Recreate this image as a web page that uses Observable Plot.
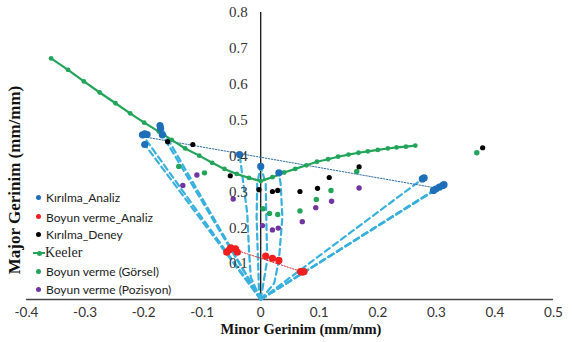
<!DOCTYPE html>
<html><head><meta charset="utf-8">
<script src="https://cdn.jsdelivr.net/npm/d3@7"></script>
<script src="https://cdn.jsdelivr.net/npm/@observablehq/plot@0.6"></script>
<style>
body{margin:0;background:#fff;}
#wrap{position:relative;width:572px;height:342px;overflow:hidden;background:#fff;}
.ov{position:absolute;white-space:nowrap;}
.leg{font-family:Lato,"Open Sans",sans-serif;font-size:12px;color:#222;transform:translateY(-50%);line-height:14px;}
.ttl{font-family:"Liberation Serif","Times New Roman",serif;font-weight:bold;color:#111;line-height:1;}
.mk{position:absolute;border-radius:50%;width:5px;height:5px;}
</style></head><body><div id="wrap"></div>
<script>
// ---- tick labels ----
const xTicks = [-0.4,-0.3,-0.2,-0.1,0,0.1,0.2,0.3,0.4,0.5];
const xTickLabels = ["-0.4","-0.3","-0.2","-0.1","0","0.1","0.2","0.3","0.4","0.5"];
const yTicks = [0.1,0.2,0.3,0.4,0.5,0.6,0.7,0.8];
const yTickLabels = ["0.1","0.2","0.3","0.4","0.5","0.6","0.7","0.8"];

// ---- Keeler curve ----
const keelerX = [-0.358,-0.329,-0.302,-0.275,-0.248,-0.223,-0.199,-0.174,-0.152,-0.129,-0.105,-0.083,-0.062,-0.041,-0.020,0,0.020,0.040,0.059,0.078,0.096,0.115,0.132,0.150,0.167,0.183,0.200,0.217,0.232,0.248,0.264];
const keelerY = [0.672,0.640,0.608,0.577,0.547,0.519,0.493,0.468,0.445,0.421,0.401,0.381,0.364,0.350,0.339,0.330,0.341,0.354,0.364,0.374,0.384,0.391,0.398,0.404,0.409,0.413,0.417,0.421,0.424,0.426,0.429];

// ---- Kırılma_Analiz ----
const kaX = [-0.202,-0.198,-0.194,-0.198,-0.172,-0.171,-0.168,-0.036,0.000,0.031,0.276,0.279,0.295,0.299,0.305,0.311,0.313];
const kaY = [0.459,0.462,0.460,0.432,0.485,0.477,0.459,0.404,0.371,0.353,0.336,0.339,0.304,0.308,0.313,0.318,0.320];
const kaFitX = [-0.194,0.295];
const kaFitY = [0.452,0.312];

// ---- Boyun verme_Analiz ----
const bvaX = [-0.058,-0.054,-0.051,-0.043,-0.040,0.0085,0.020,0.031,0.068,0.071,0.074];
const bvaY = [0.132,0.138,0.144,0.141,0.132,0.121,0.115,0.109,0.078,0.076,0.078];
const bvaFitX = [-0.043,0.071];
const bvaFitY = [0.138,0.077];

// ---- Kırılma_Deney ----
const kdX = [-0.159,-0.116,-0.052,-0.003,0.020,0.029,0.067,0.097,0.117,0.168,0.379];
const kdY = [0.440,0.432,0.345,0.306,0.301,0.304,0.301,0.310,0.340,0.370,0.423];

// ---- Boyun verme (Görsel) ----
const bvgX = [-0.140,-0.096,0.004,0.015,0.029,0.067,0.095,0.120,0.164,0.369];
const bvgY = [0.371,0.353,0.253,0.240,0.237,0.247,0.279,0.304,0.357,0.409];

// ---- Boyun verme (Pozisyon) ----
const bvpX = [-0.133,-0.109,-0.047,0.003,0.020,0.030,0.071,0.094,0.121,0.168];
const bvpY = [0.318,0.347,0.280,0.206,0.194,0.199,0.217,0.256,0.274,0.311];

// ---- strain paths (dashed) ----
const pathX = [
  [0,-0.202],[0,-0.198],[0,-0.172],[0,-0.168],
  [0,-0.017,-0.020,-0.023,-0.036],
  [0,-0.003,-0.007,-0.006,0.000],
  [0,0.011,0.0085,0.000],
  [0,0.023,0.031,0.037,0.034,0.031],
  [0,0.276],[0,0.295],[0,0.305],[0,0.313]
];
const pathY = [
  [0,0.459],[0,0.432],[0,0.485],[0,0.459],
  [0,0.062,0.136,0.240,0.404],
  [0,0.025,0.229,0.323,0.371],
  [0,0.109,0.323,0.371],
  [0,0.045,0.109,0.229,0.323,0.353],
  [0,0.336],[0,0.304],[0,0.313],[0,0.320]
];

// ---- colours ----
const cBlue = "#1F6FB8", cDash = "#38B0DE", cRed = "#F01E1E", cBlack = "#000000", cGreen = "#22A55A", cPurple = "#7035A0";

const pts = (xs, ys) => xs.map((x, i) => ({x, y: ys[i]}));
const paths = pathX.flatMap((xs, k) => xs.map((x, i) => ({x, y: pathY[k][i], k})));

const chart = Plot.plot({
  width: 572, height: 342,
  marginLeft: 26, marginRight: 19, marginTop: 12, marginBottom: 43,
  x: {domain: [-0.4, 0.5], axis: null},
  y: {domain: [0, 0.8], axis: null},
  style: {background: "white"},
  marks: [
    Plot.ruleY([0], {stroke: "#444", strokeWidth: 1.3}),
    Plot.ruleX([0], {y1: 0, y2: 0.8, stroke: "#000", strokeWidth: 1.2}),
    Plot.line(paths, {x: "x", y: "y", z: "k", stroke: cDash, strokeWidth: 2.2, strokeDasharray: "6,4", curve: "linear"}),
    Plot.line(pts(kaFitX, kaFitY), {x: "x", y: "y", stroke: "#2F6F9F", strokeWidth: 1, strokeDasharray: "1.5,1.5"}),
    Plot.line(pts(bvaFitX, bvaFitY), {x: "x", y: "y", stroke: "#D43A3A", strokeWidth: 1, strokeDasharray: "1.5,1.5"}),
    Plot.line(pts(keelerX, keelerY), {x: "x", y: "y", stroke: cGreen, strokeWidth: 2.2}),
    Plot.dot(pts(keelerX, keelerY), {x: "x", y: "y", r: 2.4, fill: cGreen}),
    Plot.dot(pts(bvgX, bvgY), {x: "x", y: "y", r: 2.7, fill: cGreen}),
    Plot.dot(pts(bvpX, bvpY), {x: "x", y: "y", r: 2.7, fill: cPurple}),
    Plot.dot(pts(kdX, kdY), {x: "x", y: "y", r: 2.6, fill: cBlack}),
    Plot.dot(pts(bvaX, bvaY), {x: "x", y: "y", r: 3.6, fill: cRed}),
    Plot.dot(pts(kaX, kaY), {x: "x", y: "y", r: 3.6, fill: cBlue}),
    Plot.text(xTicks, {x: d => d, y: () => 0, text: (d, i) => xTickLabels[i], dy: 13.5, fill: "#333", fontSize: 13.5, fontFamily: "Lato, 'Open Sans', sans-serif"}),
    Plot.text(yTicks, {x: () => 0, y: d => d, text: (d, i) => yTickLabels[i], dx: -13, textAnchor: "end", fill: "#333", fontSize: 15, fontFamily: "'Liberation Serif', serif"})
  ]
});

const wrap = document.getElementById("wrap");
chart.style.position = "absolute"; chart.style.left = "0"; chart.style.top = "0";
wrap.appendChild(chart);

// ---- axis titles ----
const xt = document.createElement("div");
xt.className = "ov ttl"; xt.textContent = "Minor Gerinim (mm/mm)";
xt.style.cssText += "font-size:14.5px;left:301px;top:329px;transform:translate(-50%,-50%);";
wrap.appendChild(xt);
const yt = document.createElement("div");
yt.className = "ov ttl"; yt.textContent = "Major Gerinim (mm/mm)";
yt.style.cssText += "font-size:17px;left:14px;top:180px;transform:translate(-50%,-50%) rotate(-90deg);";
wrap.appendChild(yt);

// ---- legend ----
const legendNames = ["Kırılma_Analiz","Boyun verme_Analiz","Kırılma_Deney","Keeler","Boyun verme (Görsel)","Boyun verme (Pozisyon)"];
const legendColors = [cBlue, cRed, cBlack, cGreen, cGreen, cPurple];
const legendY = [198, 217.5, 235, 253, 272, 290];
legendNames.forEach((name, i) => {
  const cy = legendY[i];
  if (name === "Keeler") {
    const ln = document.createElement("div");
    ln.className = "ov";
    ln.style.cssText = `left:33px;top:${cy - 1}px;width:12px;height:2px;background:${legendColors[i]};`;
    wrap.appendChild(ln);
    const d = document.createElement("div");
    d.className = "mk"; d.style.cssText += `left:36.5px;top:${cy - 2.5}px;background:${legendColors[i]};`;
    wrap.appendChild(d);
    const t = document.createElement("div");
    t.className = "ov leg"; t.textContent = name;
    t.style.cssText += `left:45px;top:${cy}px;font-family:'Liberation Serif',serif;font-size:14px;`;
    wrap.appendChild(t);
  } else {
    const d = document.createElement("div");
    d.className = "mk"; d.style.cssText += `left:35.5px;top:${cy - 3.5}px;background:${legendColors[i]};`;
    wrap.appendChild(d);
    const t = document.createElement("div");
    t.className = "ov leg"; t.textContent = name;
    t.style.cssText += `left:46px;top:${cy}px;`;
    wrap.appendChild(t);
  }
});
</script></body></html>
